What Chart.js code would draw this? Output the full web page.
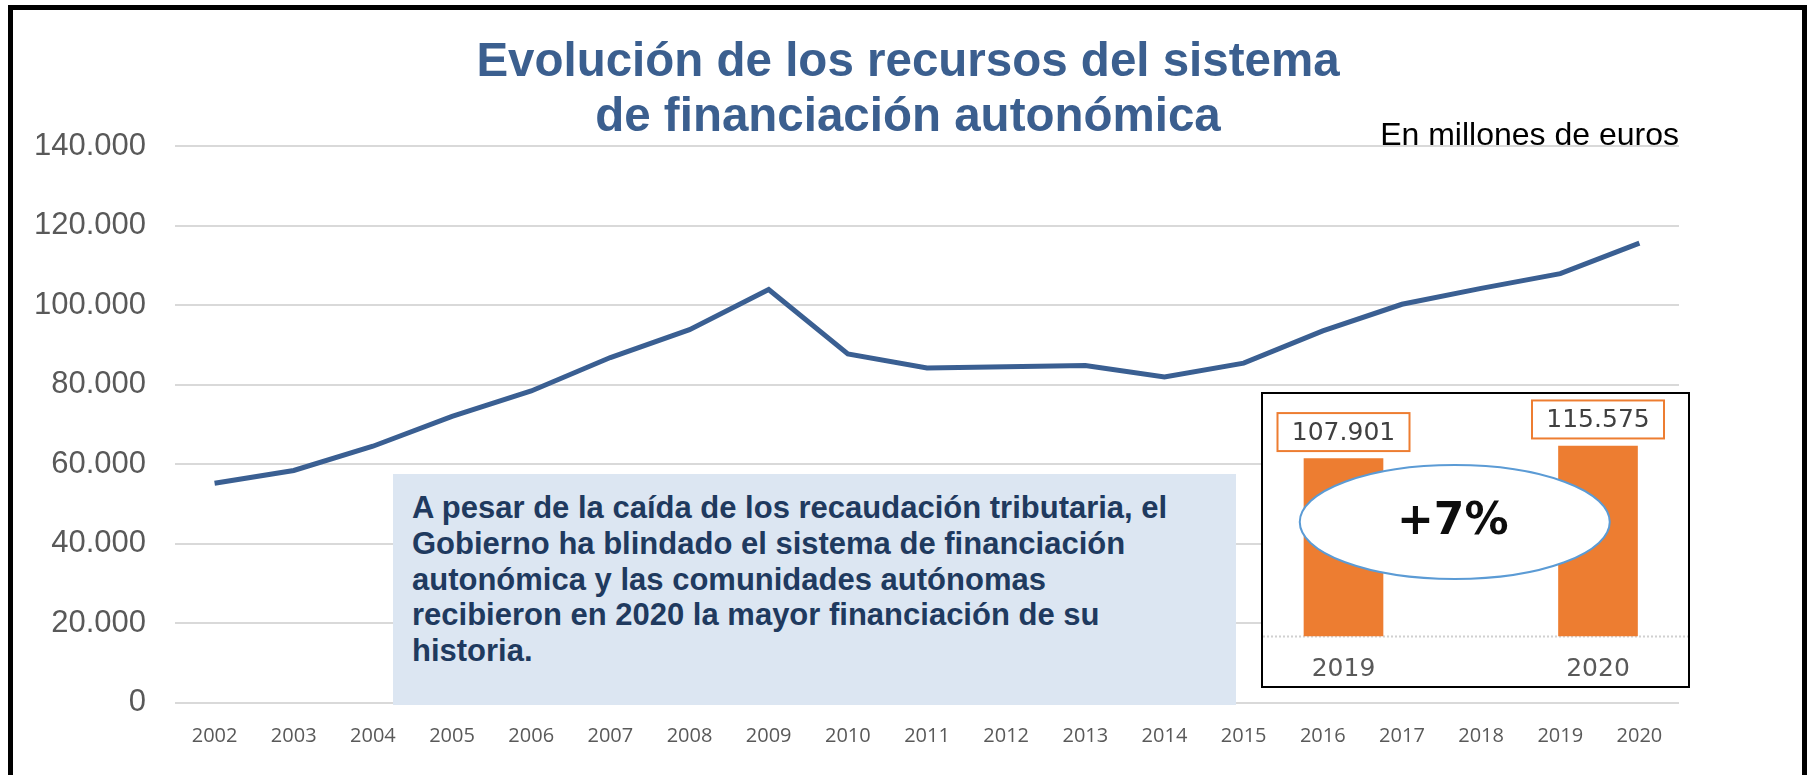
<!DOCTYPE html>
<html>
<head>
<meta charset="utf-8">
<script src="https://cdn.jsdelivr.net/npm/chart.js@4.4.1/dist/chart.umd.min.js"></script>
<style>
  body { margin: 0; background: #fff; }
  #wrap { position: relative; width: 1809px; height: 775px; overflow: hidden; }
  #frame { position: absolute; left: 8px; top: 5px; width: 1789px; height: 800px; border: 5px solid #000; border-bottom: none; }
  #mainChart { position: absolute; left: 0; top: 0; }
  #title { position: absolute; left: 0; top: 32px; width: 1816px; text-align: center;
           font: bold 47.5px "Liberation Sans", Arial, sans-serif; line-height: 55px; color: #3B5F8F; }
  #units { position: absolute; right: 130px; top: 116px; font: 32px "Liberation Sans", Arial, sans-serif;
           line-height: 36px; color: #000; }
  #note { position: absolute; left: 393px; top: 474px; width: 843px; height: 231px; box-sizing: border-box;
          padding: 16px 10px 0 19px; background: #DCE6F2; color: #1F3A5F;
          font: bold 31px "Liberation Sans", Arial, sans-serif; line-height: 35.8px; white-space: nowrap; }
  #inset { position: absolute; left: 1261px; top: 392px; width: 429px; height: 296px; box-sizing: border-box;
           border: 2px solid #000; background: #fff; }
  #insetChart { position: absolute; left: 0; top: 0; }
</style>
</head>
<body>
<div id="wrap">
  <canvas id="mainChart" width="1809" height="775"></canvas>
  <div id="frame"></div>
  <div id="title">Evolución de los recursos del sistema<br>de financiación autonómica</div>
  <div id="units">En millones de euros</div>
  <div id="note">A pesar de la caída de los recaudación tributaria, el<br>Gobierno ha blindado el sistema de financiación<br>autonómica y las comunidades autónomas<br>recibieron en 2020 la mayor financiación de su<br>historia.</div>
  <div id="inset"><canvas id="insetChart" width="425" height="292"></canvas></div>
</div>
<script>
// años y recursos (millones de euros)
const years = ['2002', '2003', '2004', '2005', '2006', '2007', '2008', '2009', '2010', '2011',
               '2012', '2013', '2014', '2015', '2016', '2017', '2018', '2019', '2020'];
const recursos = [55200, 58400, 64500, 72000, 78400, 86800, 93800, 103900, 87700, 84200,
                  84500, 84800, 81900, 85400, 93500, 100200, 104200, 107901, 115575];
const yTicks = [0, 20000, 40000, 60000, 80000, 100000, 120000, 140000];

// recuadro 2019-2020
const insetYears = ['2019', '2020'];
const insetValues = [107901, 115575];
const insetChange = '+7%';

function fmt(v) {
    return v.toString().replace(/\B(?=(\d{3})+(?!\d))/g, '.');
}

new Chart(document.getElementById('mainChart'), {
    type: 'line',
    data: {
        labels: years,
        datasets: [{
            data: recursos,
            borderColor: '#3A5F92',
            borderWidth: 5,
            pointRadius: 0,
            tension: 0,
            fill: false
        }]
    },
    options: {
        responsive: false,
        animation: false,
        layout: { padding: { top: 146, right: 130, bottom: 29.3, left: 0 } },
        plugins: { legend: { display: false }, tooltip: { enabled: false } },
        scales: {
            x: {
                offset: true,
                afterFit: (s) => { s.height = 43; },
                grid: { display: false, drawTicks: false },
                border: { display: false },
                ticks: { color: '#595959', padding: 21.5, maxRotation: 0, autoSkip: false,
                         font: { family: 'Open Sans', size: 20 } }
            },
            y: {
                min: 0,
                max: 140000,
                afterBuildTicks: (s) => { s.ticks = yTicks.map(v => ({ value: v })); },
                afterFit: (s) => { s.width = 175; },
                grid: { color: '#D9D9D9', lineWidth: 2, drawTicks: false },
                border: { display: false },
                ticks: { color: '#595959', padding: 29, callback: (v) => fmt(v),
                         font: { family: 'Liberation Sans', size: 31 } }
            }
        }
    }
});

const insetDeco = {
    id: 'insetDeco',
    beforeDatasetsDraw(chart) {
        const ctx = chart.ctx;
        const y = chart.chartArea.bottom + 0.5;
        ctx.save();
        ctx.strokeStyle = '#D0D0D0';
        ctx.lineWidth = 2;
        ctx.setLineDash([2, 2]);
        ctx.beginPath();
        ctx.moveTo(0, y);
        ctx.lineTo(chart.width, y);
        ctx.stroke();
        ctx.restore();
    },
    afterDatasetsDraw(chart) {
        const ctx = chart.ctx;
        const bars = chart.getDatasetMeta(0).data;
        ctx.save();
        // etiquetas de valor
        ctx.font = '25px "DejaVu Sans"';
        ctx.textAlign = 'center';
        ctx.textBaseline = 'middle';
        bars.forEach((bar, i) => {
            const w = 132, h = 38;
            const top = bar.y - 7.5 - h;
            ctx.fillStyle = '#fff';
            ctx.fillRect(bar.x - w / 2, top, w, h);
            ctx.strokeStyle = '#ED7D31';
            ctx.lineWidth = 2;
            ctx.strokeRect(bar.x - w / 2, top, w, h);
            ctx.fillStyle = '#404040';
            ctx.fillText(fmt(insetValues[i]), bar.x, top + h / 2 + 1);
        });
        // elipse con la variación
        const cx = (bars[0].x + bars[1].x) / 2 - 16;
        const cy = 128;
        ctx.beginPath();
        ctx.ellipse(cx, cy, 155, 57, 0, 0, Math.PI * 2);
        ctx.fillStyle = '#fff';
        ctx.fill();
        ctx.strokeStyle = '#5B9BD5';
        ctx.lineWidth = 2;
        ctx.stroke();
        ctx.fillStyle = '#0D0D0D';
        ctx.font = 'bold 44px "DejaVu Sans"';
        ctx.fillText(insetChange, cx - 2, cy + 1);
        ctx.restore();
    }
};

new Chart(document.getElementById('insetChart'), {
    type: 'bar',
    data: {
        labels: insetYears,
        datasets: [{
            data: insetValues,
            backgroundColor: '#ED7D31',
            barThickness: 79,
            clip: false
        }]
    },
    options: {
        responsive: false,
        animation: false,
        layout: { padding: { top: 11.8, right: 90, bottom: 4, left: 80.5 } },
        plugins: { legend: { display: false }, tooltip: { enabled: false } },
        scales: {
            x: {
                offset: false,
                afterFit: (s) => { s.height = 46; },
                grid: { display: false, drawTicks: false },
                border: { display: false },
                ticks: { color: '#595959', padding: 18, maxRotation: 0,
                         font: { family: 'DejaVu Sans', size: 25 } }
            },
            y: { display: false, min: 0, max: 140000 }
        }
    },
    plugins: [insetDeco]
});
</script>
</body>
</html>
